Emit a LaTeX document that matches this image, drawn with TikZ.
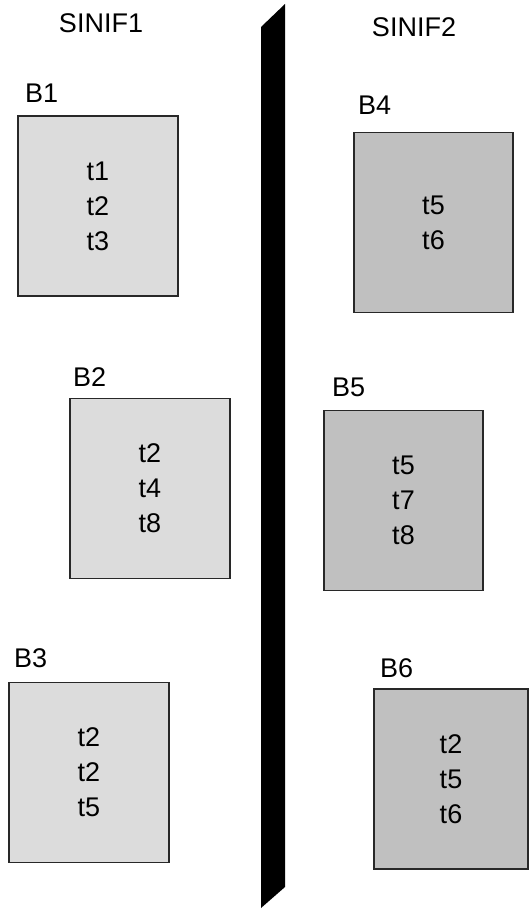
\documentclass[tikz,border=0pt]{standalone}
\usepackage{fontspec}
\setmainfont{Liberation Sans}
\usetikzlibrary{positioning}
\definecolor{lgray}{RGB}{220,220,220}
\definecolor{mgray}{RGB}{192,192,192}
\definecolor{edge}{RGB}{40,40,40}

\begin{document}
\begin{tikzpicture}[x=1pt, y=-1pt, every node/.style={font=\fontsize{27}{35}\selectfont, inner sep=0pt},
  blok/.style={draw=edge, line width=1.6pt, minimum width=160pt, minimum height=180pt, align=center},
  solblok/.style={blok, fill=lgray}, sagblok/.style={blok, fill=mgray},
  etiket/.style={anchor=base west}]
\useasboundingbox (0,0) rectangle (529,909);
\node[anchor=base] (sinif1) at (101,33) {SINIF1};
\node[anchor=base] (sinif2) at (414,37) {SINIF2};
\fill[black] (261,27) -- (285,4) -- (285,887) -- (261,908) -- cycle;
\node[solblok] (b1) at (98,206) {t1\\t2\\t3};
\node[solblok] (b2) at (150,488.5) {t2\\t4\\t8};
\node[solblok] (b3) at (89,772.5) {t2\\t2\\t5};
\node[sagblok, minimum width=159pt] (b4) at (433.5,222.5) {t5\\t6};
\node[sagblok, minimum width=159pt] (b5) at (403.5,500.5) {t5\\t7\\t8};
\node[sagblok, minimum width=154pt] (b6) at (451,779) {t2\\t5\\t6};
\node[etiket] (lb1) at (25,103) {B1};
\node[etiket] (lb2) at (73,386) {B2};
\node[etiket] (lb3) at (14,667) {B3};
\node[etiket] (lb4) at (358,115) {B4};
\node[etiket] (lb5) at (332,396) {B5};
\node[etiket] (lb6) at (380,677) {B6};
\end{tikzpicture}
\end{document}
